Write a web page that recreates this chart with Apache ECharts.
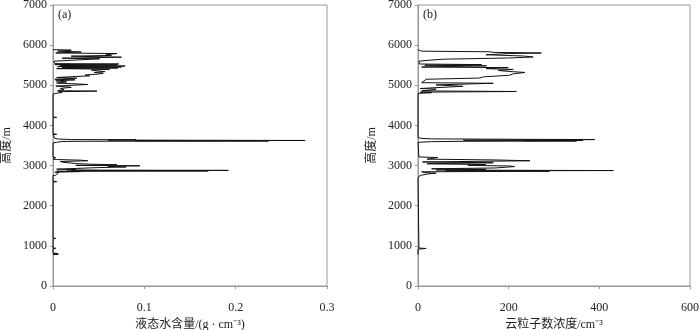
<!DOCTYPE html>
<html>
<head>
<meta charset="utf-8">
<script src="https://cdn.jsdelivr.net/npm/echarts@6/dist/echarts.min.js"></script>
<style>
  html, body { margin: 0; padding: 0; background: #fff; }
  #main { width: 700px; height: 330px; }
</style>
</head>
<body>
<div id="main"></div>
<script>
// (a) 液态水含量 profile, altitude in m (ascending)
var lwcAlt = [780, 790, 800, 810, 820, 930, 940, 950, 1175, 1185, 1195, 1555, 1560, 1565, 2590, 2600, 2610,
    2690, 2700, 2710, 2750, 2760, 2780, 2800, 2820, 2835, 2850, 2858, 2866, 2872, 2880, 2886, 2892, 2900,
    2910, 2930, 2950, 2965, 2980, 2995, 3005, 3020, 3035, 3050, 3080, 3100, 3120, 3135, 3150, 3160,
    3200, 3210, 3340, 3350, 3360, 3470, 3480, 3490, 3560, 3580, 3600, 3605, 3612, 3618, 3625, 3630,
    3636, 3642, 3648, 3660, 3680, 3700, 3770, 3780, 3790, 3940, 3950, 3960, 4190, 4200, 4210, 4490,
    4500, 4510, 4780, 4800, 4820, 4840, 4855, 4865, 4890, 4920, 4950, 4980, 5020, 5040, 5055, 5085,
    5110, 5135, 5150, 5175, 5195, 5235, 5255, 5280, 5300, 5320, 5340, 5360, 5380, 5400, 5415, 5430,
    5440, 5455, 5465, 5480, 5492, 5505, 5515, 5530, 5540, 5600, 5640, 5660, 5675, 5700, 5725, 5745,
    5765, 5790, 5805, 5830, 5850, 5875, 5890];
var lwcVal = [0, 0.006, 0.001, 0.005, 0, 0, 0.003, 0, 0, 0.003, 0, 0, 0.002, 0, 0, 0.004, 0,
    0, 0.002, 0, 0, 0.003, 0.001, 0.003, 0.006, 0.002, 0.03, 0.004, 0.17, 0.02, 0.192, 0.06, 0.015, 0.025,
    0.004, 0.003, 0.05, 0.08, 0.06, 0.095, 0.025, 0.07, 0.04, 0.025, 0.012, 0.008, 0.038, 0.03, 0.004, 0,
    0.003, 0, 0, 0.002, 0, 0, 0.002, 0, 0, 0.004, 0.01, 0.03, 0.236, 0.09, 0.276, 0.167,
    0.06, 0.091, 0.02, 0.006, 0.002, 0, 0, 0.004, 0, 0, 0.002, 0, 0, 0.004, 0, 0,
    0.002, 0, 0, 0.003, 0.01, 0.006, 0.048, 0.005, 0.012, 0.008, 0.02, 0.003, 0.038, 0.02, 0.004, 0.015,
    0.003, 0.024, 0.002, 0.026, 0.004, 0.04, 0.035, 0.05, 0.055, 0.045, 0.057, 0.048, 0.042, 0.062, 0.004, 0.071,
    0.01, 0.075, 0.005, 0.079, 0.008, 0.07, 0.002, 0.072, 0.002, 0.001, 0.003, 0.051, 0.01, 0.075, 0.02, 0.064,
    0.058, 0.07, 0.003, 0.031, 0.005, 0.02, 0];

// (b) 云粒子数浓度 profile
var ncAlt = [780, 920, 935, 945, 955, 2690, 2700, 2740, 2760, 2790, 2810, 2825, 2845, 2860, 2868, 2876,
    2884, 2892, 2905, 2920, 2940, 2960, 2975, 2990, 3005, 3025, 3045, 3070, 3090, 3120, 3140, 3160,
    3200, 3215, 3230, 3580, 3595, 3605, 3612, 3618, 3625, 3632, 3640, 3648, 3655, 3665, 3680, 3700,
    4800, 4815, 4830, 4845, 4860, 4885, 4905, 4920, 4975, 5010, 5050, 5065, 5110, 5150, 5180, 5210,
    5250, 5285, 5320, 5345, 5370, 5395, 5415, 5440, 5455, 5485, 5500, 5515, 5530, 5600, 5625, 5650,
    5680, 5705, 5730, 5760, 5790, 5805, 5820, 5835, 5850, 5870, 5890];
var ncVal = [0, 0, 18, 2, 0, 0, 2, 3, 8, 20, 40, 15, 8, 290, 60, 431,
    160, 40, 150, 30, 170, 195, 213, 202, 110, 150, 20, 166, 10, 247, 170, 20,
    44, 2, 0, 0, 30, 100, 350, 232, 364, 100, 335, 390, 210, 30, 5, 0,
    0, 30, 5, 217, 8, 33, 40, 5, 99, 40, 166, 8, 5, 18, 136, 144,
    202, 210, 236, 200, 177, 210, 150, 199, 8, 151, 15, 140, 3, 2, 26, 55,
    200, 254, 232, 150, 200, 272, 166, 158, 8, 7, 0];

var altTicks = [0, 7000, 1000];

function pairs(vals, alts) {
    var out = [];
    for (var i = 0; i < vals.length; i++) out.push([vals[i], alts[i]]);
    return out;
}

var font = "'Liberation Serif', 'Noto Sans CJK SC', serif";
var gray = '#999';

function xAx(idx, max, interval, name) {
    return {
        type: 'value', gridIndex: idx, min: 0, max: max, interval: interval,
        name: name, nameLocation: 'middle', nameGap: 31,
        nameTextStyle: { fontFamily: font, fontSize: 12, color: '#222' },
        axisLine: { lineStyle: { color: gray } },
        axisTick: { show: true, length: 3, lineStyle: { color: gray } },
        axisLabel: { fontFamily: font, fontSize: 12, color: '#222', margin: 16 },
        splitLine: { show: false }
    };
}
function yAx(idx) {
    return {
        type: 'value', gridIndex: idx, min: altTicks[0], max: altTicks[1], interval: altTicks[2],
        name: '高度/m', nameLocation: 'middle', nameGap: 40, nameRotate: 90,
        nameTextStyle: { fontFamily: font, fontSize: 12, color: '#222' },
        axisLine: { lineStyle: { color: gray } },
        axisTick: { show: true, length: 3, lineStyle: { color: gray } },
        axisLabel: {
            fontFamily: font, fontSize: 12, color: '#222', margin: 6,
            formatter: function (v) { return String(v); }
        },
        splitLine: { show: false }
    };
}

var chart = echarts.init(document.getElementById('main'));
var option = {
    animation: false,
    grid: [
        { left: 53, top: 5, width: 274, height: 281, show: true, borderColor: gray, borderWidth: 1, outerBoundsMode: 'none', containLabel: false },
        { left: 418, top: 5, width: 272, height: 281, show: true, borderColor: gray, borderWidth: 1, outerBoundsMode: 'none', containLabel: false }
    ],
    xAxis: [
        xAx(0, 0.3, 0.1, '液态水含量/(g · cm⁻³)'),
        xAx(1, 600, 200, '云粒子数浓度/cm⁻³')
    ],
    yAxis: [yAx(0), yAx(1)],
    graphic: [
        { type: 'text', left: 58, top: 9, style: { text: '(a)', font: "12px 'Liberation Serif', serif", fill: '#222' } },
        { type: 'text', left: 423, top: 9, style: { text: '(b)', font: "12px 'Liberation Serif', serif", fill: '#222' } }
    ],
    series: [
        {
            type: 'line', xAxisIndex: 0, yAxisIndex: 0, showSymbol: false, symbol: 'none',
            lineStyle: { color: '#111', width: 1 }, data: pairs(lwcVal, lwcAlt)
        },
        {
            type: 'line', xAxisIndex: 1, yAxisIndex: 1, showSymbol: false, symbol: 'none',
            lineStyle: { color: '#111', width: 1 }, data: pairs(ncVal, ncAlt)
        }
    ]
};
chart.setOption(option);
</script>
</body>
</html>
